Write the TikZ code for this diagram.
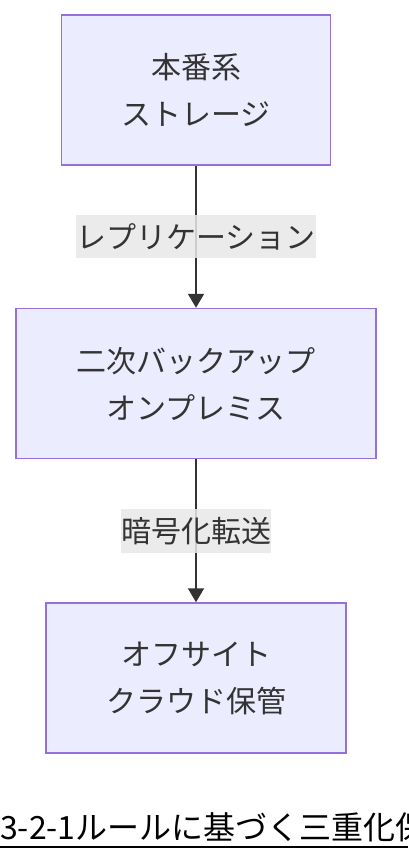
\documentclass[tikz,border=0pt]{standalone}
\usepackage{fontspec}
\setmainfont{Noto Sans CJK JP}
\usetikzlibrary{arrows.meta, positioning}
\definecolor{boxfill}{HTML}{ECECFF}
\definecolor{boxline}{HTML}{9370DB}
\definecolor{ink}{HTML}{333333}
\definecolor{labelfill}{HTML}{E8E8E8}
\begin{document}
\begin{tikzpicture}[
            x=1pt, y=-1pt,
            store/.style={draw=boxline, fill=boxfill, rectangle, line width=1.5pt, text=ink, align=center,
                          font=\fontsize{30}{47}\selectfont, inner xsep=60pt, minimum height=150pt},
            flow/.style={-{Triangle[length=14pt, width=16pt]}, draw=ink, fill=ink, line width=2pt},
            edgelabel/.style={fill=labelfill, fill opacity=0.85, text opacity=1, text=ink, inner xsep=0pt,
                              inner ysep=8pt, font=\fontsize{30}{30}\selectfont},
            node distance=142pt
        ]
            \useasboundingbox (0,0) rectangle (408,860);
            \node[store] (prod) at (196,90) {本番系\\ストレージ};
            \node[store, below=of prod] (onprem) {二次バックアップ\\オンプレミス};
            \node[store, below=143pt of onprem] (cloud) {オフサイト\\クラウド保管};

            \draw[flow] (prod) -- node[edgelabel] {レプリケーション} (onprem);
            \draw[flow] (onprem) -- node[edgelabel] {暗号化転送} (cloud);

            \node[anchor=base west, inner sep=0pt, font=\fontsize{32}{32}\selectfont] (title) at (0,839) {3-2-1ルールに基づく三重化保};
            \draw[line width=2pt] (0,847) -- (408,847);
        \end{tikzpicture}
\end{document}
